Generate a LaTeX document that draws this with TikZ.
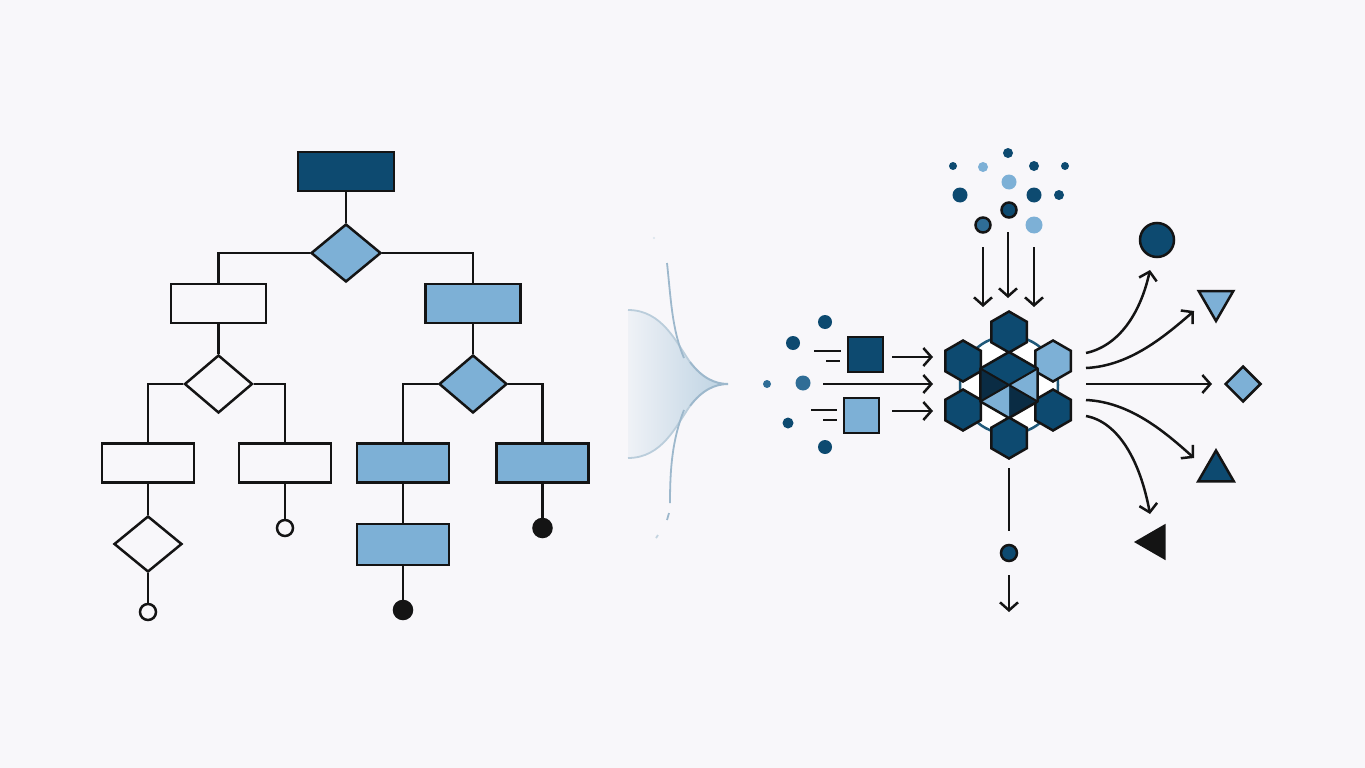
\documentclass[tikz,border=0pt]{standalone}
\usetikzlibrary{shapes.geometric,arrows.meta}
\definecolor{bg}{HTML}{F8F7FA}
\definecolor{dkb}{HTML}{0D4A70}
\definecolor{ltb}{HTML}{7DB0D6}
\definecolor{mdb}{HTML}{2F6D96}
\definecolor{nvy}{HTML}{0A2C44}
\definecolor{ink}{HTML}{141414}
\definecolor{fun}{HTML}{9DB8CC}
\definecolor{funfill}{HTML}{BCD2E2}
\definecolor{ringc}{HTML}{1F5878}
\begin{document}
\begin{tikzpicture}[x=1pt,y=-1pt,
  conn/.style={draw=ink,line width=2.5pt},
  box/.style={rectangle,draw=ink,line width=2.5pt,minimum width=92pt,minimum height=39pt,inner sep=0pt},
  dia/.style={diamond,draw=ink,line width=2.5pt,minimum width=68pt,minimum height=58pt,inner sep=0pt},
  leaf/.style={circle,draw=ink,line width=2.5pt,minimum size=16pt,inner sep=0pt},
  arr/.style={conn,-{Straight Barb[length=8pt,width=18pt]}},
  hex/.style={regular polygon,regular polygon sides=6,shape border rotate=30,minimum size=41pt,inner sep=0pt,draw=ink,line width=2.5pt,fill=dkb},
  dot/.style={circle,inner sep=0pt,fill=dkb,minimum size=#1},
  dot/.default=12pt,
  sq/.style={rectangle,draw=ink,line width=2.5pt,minimum size=35pt,inner sep=0pt},
  outshape/.style={draw=ink,line width=2.5pt,inner sep=0pt}
]
\useasboundingbox (0,0) rectangle (1365,768);
\fill[bg] (0,0) rectangle (1365,768);

% ---------- left tree ----------
\node[box,fill=dkb,minimum width=96pt] (r) at (346,171.5) {};
\node[dia,fill=ltb,minimum width=70pt] (d1) at (346,253) {};
\node[box,fill=bg,minimum width=95pt] (b1) at (218.5,303.5) {};
\node[box,fill=ltb,minimum width=95pt] (b2) at (473,303.5) {};
\node[dia,fill=bg] (d2) at (218.5,384) {};
\node[dia,fill=ltb] (d3) at (473,384) {};
\node[box,fill=bg] (b3) at (148,463) {};
\node[box,fill=bg] (b4) at (285,463) {};
\node[box,fill=ltb] (b5) at (403,463) {};
\node[box,fill=ltb] (b6) at (542.5,463) {};
\node[dia,fill=bg,minimum height=56pt] (d4) at (148,544) {};
\node[leaf,fill=bg] (l1) at (148,612) {};
\node[leaf,fill=bg] (l2) at (285,528) {};
\node[box,fill=ltb,minimum height=41pt] (b7) at (403,544.5) {};
\node[leaf,fill=ink,minimum size=18pt] (l3) at (403,610) {};
\node[leaf,fill=ink,minimum size=18pt] (l4) at (542.5,528) {};

\draw[conn] (r.south) -- (d1.north);
\draw[conn] (d1.west) -| (b1.north);
\draw[conn] (d1.east) -| (b2.north);
\draw[conn] (b1.south) -- (d2.north);
\draw[conn] (b2.south) -- (d3.north);
\draw[conn] (d2.west) -| (b3.north);
\draw[conn] (d2.east) -| (b4.north);
\draw[conn] (d3.west) -| (b5.north);
\draw[conn] (d3.east) -| (b6.north);
\draw[conn] (b3.south) -- (d4.north);
\draw[conn] (d4.south) -- (l1.north);
\draw[conn] (b4.south) -- (l2.north);
\draw[conn] (b5.south) -- (b7.north);
\draw[conn] (b7.south) -- (l3.north);
\draw[conn] (b6.south) -- (l4.north);

% ---------- funnel ----------
\shade[left color=bg!85!funfill,right color=funfill]
  (628,310) .. controls (662,310) and (676,342) .. (690,362)
  .. controls (702,378) and (715,384) .. (728,384)
  .. controls (715,384) and (702,390) .. (690,406)
  .. controls (676,426) and (662,458) .. (628,458) -- cycle;
\draw[fun!70,line width=1.8pt] (628,310) .. controls (662,310) and (676,342) .. (690,362);
\draw[fun,line width=2pt] (690,362) .. controls (702,378) and (715,384) .. (728,384)
  .. controls (715,384) and (702,390) .. (690,406);
\draw[fun!70,line width=1.8pt] (690,406) .. controls (676,426) and (662,458) .. (628,458);
\draw[fun,line width=1.8pt] (667,263) .. controls (671,300) and (672,330) .. (684,358);
\draw[fun,line width=1.8pt] (684,410) .. controls (672,440) and (670,470) .. (670,503);
\draw[fun,line width=1.8pt] (669,513) -- (667,520);
\draw[fun!60,line width=1.8pt] (658,535) -- (656,538);
\fill[fun!40] (654,238) circle (1.2pt);

% ---------- hex cluster ----------
\node[circle,draw=ringc,line width=2.5pt,fill=white,minimum size=98pt,inner sep=0pt] (ring) at (1009,385) {};
\node[hex] (h1) at (1009,332) {};
\node[hex,fill=ltb] (h2) at (1053,361) {};
\node[hex] (h3) at (1053,410) {};
\node[hex] (h4) at (1009,438) {};
\node[hex] (h5) at (963,410) {};
\node[hex] (h6) at (963,361) {};

\coordinate (cc) at (1009,385);
\coordinate (cT) at (1009,352);
\coordinate (cUR) at (1037.6,368.5);
\coordinate (cLR) at (1037.6,401.5);
\coordinate (cB) at (1009,418);
\coordinate (cLL) at (980.4,401.5);
\coordinate (cUL) at (980.4,368.5);
\fill[dkb] (cc) -- (cUL) -- (cT) -- (cUR) -- cycle;
\fill[ltb] (cc) -- (cUR) -- (cLR) -- cycle;
\fill[nvy] (cc) -- (cLR) -- (cB) -- cycle;
\fill[ltb] (cc) -- (cB) -- (cLL) -- cycle;
\fill[nvy] (cc) -- (cLL) -- (cUL) -- cycle;
\draw[ink,line width=2.5pt,line join=round] (cT) -- (cUR) -- (cLR) -- (cB) -- (cLL) -- (cUL) -- cycle;
\draw[ink,line width=2pt] (cUL) -- (cLR) (cUR) -- (cLL);

% ---------- top dots ----------
\node[dot=10pt] (t1) at (1008,153) {};
\node[dot=8pt] (t2) at (953,166) {};
\node[dot=10pt,fill=ltb] (t3) at (983,167) {};
\node[dot=10pt] (t4) at (1034,166) {};
\node[dot=8pt] (t5) at (1065,166) {};
\node[dot=15pt,fill=ltb] (t6) at (1009,182) {};
\node[dot=15pt] (t7) at (960,195) {};
\node[dot=15pt] (t8) at (1034,195) {};
\node[dot=10pt] (t9) at (1059,195) {};
\node[dot=15pt,draw=ink,line width=2.5pt] (t10) at (1009,210) {};
\node[dot=15pt,fill=mdb,draw=ink,line width=2.5pt] (t11) at (983,225) {};
\node[dot=17pt,fill=ltb] (t12) at (1034,225) {};
\coordinate (ta1) at (983,247);
\coordinate (tb1) at (983,307);
\coordinate (ta2) at (1008,232);
\coordinate (tb2) at (1008,298);
\coordinate (ta3) at (1034,247);
\coordinate (tb3) at (1034,307);
\draw[arr] (ta1) -- (tb1);
\draw[arr] (ta2) -- (tb2);
\draw[arr] (ta3) -- (tb3);

% ---------- left inputs ----------
\node[dot=14pt] (i1) at (825,322) {};
\node[dot=14pt] (i2) at (793,343) {};
\node[dot=8pt,fill=mdb] (i3) at (767,384) {};
\node[dot=15pt,fill=mdb] (i4) at (803,383) {};
\node[dot=11pt] (i5) at (788,423) {};
\node[dot=14pt] (i6) at (825,447) {};
\node[sq,fill=dkb] (s1) at (865.5,354.5) {};
\node[sq,fill=ltb] (s2) at (861.5,415.5) {};
\draw[conn] (814,351) -- (841,351);
\draw[conn] (826,361) -- (840,361);
\draw[conn] (811,410) -- (837,410);
\draw[conn] (823,420) -- (837,420);
\coordinate (ia1) at (892,357);
\coordinate (ib1) at (933,357);
\coordinate (ia2) at (823,384);
\coordinate (ib2) at (933,384);
\coordinate (ia3) at (892,411);
\coordinate (ib3) at (933,411);
\draw[arr] (ia1) -- (ib1);
\draw[arr] (ia2) -- (ib2);
\draw[arr] (ia3) -- (ib3);

% ---------- outputs ----------
\node[circle,outshape,fill=dkb,minimum size=34pt] (o1) at (1157,240) {};
\node[regular polygon,regular polygon sides=3,shape border rotate=180,outshape,fill=ltb,minimum size=40pt] (o2) at (1216,301) {};
\node[diamond,outshape,fill=ltb,minimum width=36pt,minimum height=36pt] (o3) at (1243,384) {};
\node[regular polygon,regular polygon sides=3,outshape,fill=dkb,minimum size=41pt] (o4) at (1216,471) {};
\node[regular polygon,regular polygon sides=3,shape border rotate=90,fill=ink,inner sep=0pt,minimum size=42pt] (o5) at (1155,542) {};

\coordinate (oa1) at (1086,353);
\coordinate (oa2) at (1086,368);
\coordinate (oa3) at (1086,384);
\coordinate (oa4) at (1086,400);
\coordinate (oa5) at (1086,416);
\coordinate (ob1) at (1150,270);
\coordinate (ob2) at (1194,311);
\coordinate (ob3) at (1212,384);
\coordinate (ob4) at (1194,458);
\coordinate (ob5) at (1150,514);
\draw[arr] (oa1) .. controls (1118,346) and (1140,315) .. (ob1);
\draw[arr] (oa2) .. controls (1130,366) and (1165,336) .. (ob2);
\draw[arr] (oa3) -- (ob3);
\draw[arr] (oa4) .. controls (1130,402) and (1165,432) .. (ob4);
\draw[arr] (oa5) .. controls (1118,422) and (1140,460) .. (ob5);

% ---------- bottom ----------
\coordinate (ba) at (1009,468);
\coordinate (bb) at (1009,531);
\draw[conn] (ba) -- (bb);
\node[dot=16pt,draw=ink,line width=2.5pt] (bd) at (1009,553) {};
\coordinate (bc) at (1009,575);
\coordinate (be) at (1009,612);
\draw[arr] (bc) -- (be);
\end{tikzpicture}
\end{document}
